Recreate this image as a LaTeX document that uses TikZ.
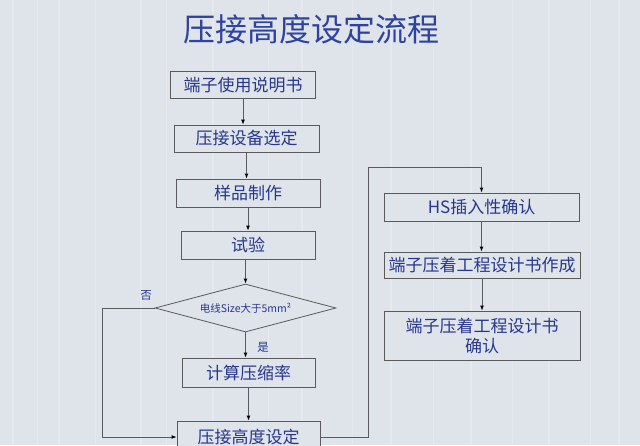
\documentclass[tikz,border=0pt]{standalone}
\usepackage{fontspec}
\newfontfamily\cjk{Noto Sans CJK SC}
\usetikzlibrary{shapes.geometric,arrows.meta}
\definecolor{bg}{RGB}{222,228,233}
\definecolor{txt}{RGB}{40,55,140}
\definecolor{ttl}{RGB}{48,66,160}
\definecolor{ln}{RGB}{90,90,90}
\tikzset{
  stepbox/.style={draw=ln,line width=0.8pt,fill=bg,text=txt,font=\cjk\fontsize{17}{20}\selectfont,inner sep=0pt,align=center},
  decbox/.style={diamond,draw=ln,line width=0.8pt,fill=bg,text=txt,font=\cjk\fontsize{10.5}{12}\selectfont,inner sep=0pt,minimum width=181pt,minimum height=48pt,aspect=3.77},
  arr/.style={draw=ln,line width=0.9pt,-{Latex[length=5pt,width=4pt,color=black]}},
  lab/.style={text=txt,font=\cjk\fontsize{11.5}{13}\selectfont,inner sep=0pt}
}
\begin{document}
\begin{tikzpicture}[x=1pt,y=-1pt]
\clip (0,0) rectangle (640,445);
\fill[bg] (0,0) rectangle (640,445);
\foreach \xx/\ww in {12/1.5,37/1,58/2,95/1,140/1.5,166/1,212/2,268/1,301/1.5,352/1,390/2,433/1,470/1.5,512/1,548/2,590/1,618/1.5}{
  \fill[white,opacity=0.25] (\xx,0) rectangle (\xx+\ww,445);
}
\node[text=ttl,font=\cjk\fontsize{32}{35}\selectfont,inner sep=0pt] (title) at (311,29) {压接高度设定流程};
\node[stepbox,minimum width=145pt,minimum height=27pt] (b1) at (243,85) {端子使用说明书};
\node[stepbox,minimum width=145pt,minimum height=27pt] (b2) at (246.5,138.5) {压接设备选定};
\node[stepbox,minimum width=144pt,minimum height=28pt] (b3) at (248,193) {样品制作};
\node[stepbox,minimum width=134pt,minimum height=28pt] (b4) at (248,245) {试验};
\node[decbox] (d) at (245.5,308) {电线Size大于5mm²};
\node[stepbox,minimum width=133pt,minimum height=29pt] (b5) at (248.5,372.5) {计算压缩率};
\node[stepbox,minimum width=143pt,minimum height=32pt] (b6) at (248.5,437) {压接高度设定};
\node[stepbox,minimum width=195pt,minimum height=28pt] (r1) at (481.5,207) {HS插入性确认};
\node[stepbox,minimum width=196pt,minimum height=26pt] (r2) at (482,265) {端子压着工程设计书作成};
\node[stepbox,minimum width=196pt,minimum height=49pt] (r3) at (482,335.5) {端子压着工程设计书\\确认};
\node[lab] (no) at (146,295) {否};
\node[lab] (yes) at (263,347) {是};
\coordinate (cl) at (102,308);
\coordinate (cr) at (368,167);
\draw[arr] (b1.south) -- (b1.south |- b2.north);
\draw[arr] (b2.south) -- (b2.south |- b3.north);
\draw[arr] (b3.south) -- (b3.south |- b4.north);
\draw[arr] (b4.south -| d.north) -- (d.north);
\draw[arr] (d.south) -- (d.south |- b5.north);
\draw[arr] (b5.south) -- (b5.south |- b6.north);
\draw[arr] (d.west) -- (cl) |- (b6.west);
\draw[arr] (b6.east) -| (cr) -| (r1.north);
\draw[arr] (r1.south) -- (r1.south |- r2.north);
\draw[arr] (r2.south) -- (r2.south |- r3.north);
\end{tikzpicture}
\end{document}
